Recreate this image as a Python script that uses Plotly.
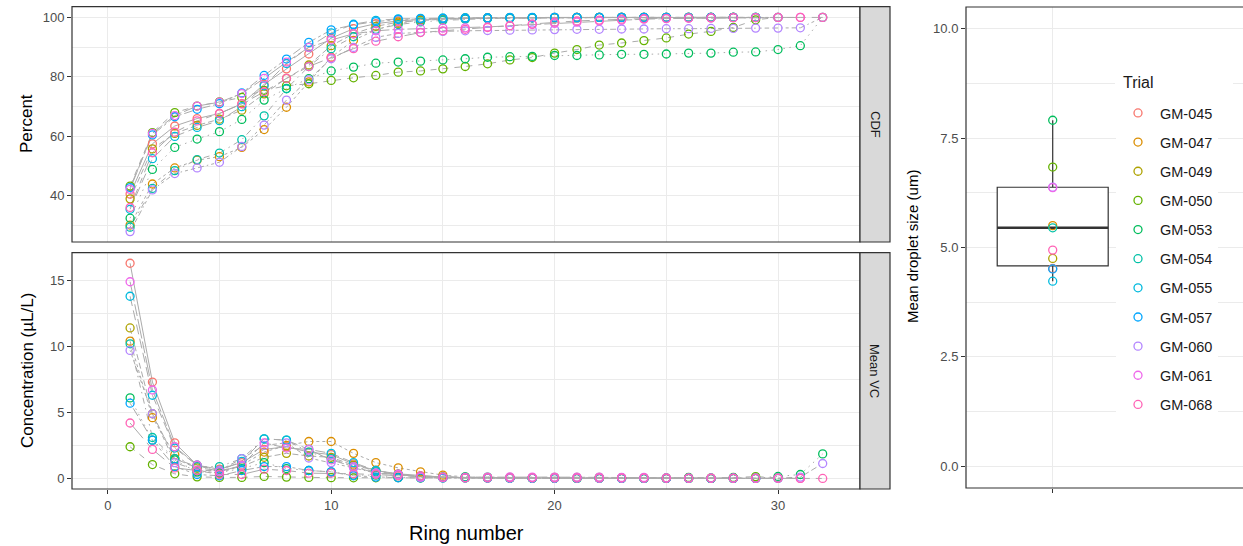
import plotly.graph_objects as go
import numpy as np

W, H = 1243, 546

TRIALS = ["GM-045", "GM-047", "GM-049", "GM-050", "GM-053", "GM-054",
          "GM-055", "GM-057", "GM-060", "GM-061", "GM-068"]
COLORS = ["#F8766D", "#DB8E00", "#AEA200", "#64B200", "#00BD5C", "#00C1A7",
          "#00BADE", "#00A6FF", "#B385FF", "#EF67EB", "#FF63B6"]
DASHES = ["solid", "3px,3px", "6px,3px", "6px,6px", "1.5px,4.5px",
          "1.5px,4.5px,6px,4.5px", "10px,4.5px", "3px,3px,9px,3px",
          "1.5px,3px,3px,3px,4.5px,3px,6px,3px", "20px,3px,12px,3px",
          "20px,6px,6px,6px,12px,6px,6px,6px"]

RINGS = list(range(1, 33))

# CDF (%) per ring
CDF_045 = [40.6, 57.5, 63.5, 66.0, 67.7, 71.0, 77.5, 82.7, 87.7, 93.0, 96.2, 97.9, 98.8, 99.3, 99.5, 99.7, 99.8, 99.9, 99.9, 99.9,
           100, 100, 100, 100, 100, 100, 100, 100]
CDF_047 = [30.2, 44.0, 49.4, 52.0, 53.2, 56.3, 62.3, 69.8, 78.3, 86.6, 92.3, 95.8, 98.0, 99.2, 99.6, 99.8, 99.9, 99.9, 99.9, 100,
           100, 100, 100, 100, 100, 100, 100, 100, 100]
CDF_049 = [39.0, 55.8, 61.0, 63.7, 65.8, 68.8, 74.3, 79.5, 84.0, 90.5, 94.5, 97.0, 98.4, 99.0, 99.4, 99.6, 99.7, 99.8, 99.9, 99.9,
           100, 100, 100, 100, 100, 100, 100, 100]
CDF_050 = [43.3, 61.3, 68.0, 70.2, 71.6, 73.1, 75.5, 77.0, 77.7, 78.8, 79.7, 80.5, 81.6, 82.0, 82.7, 83.5, 84.4, 85.7, 86.5, 88.0,
           89.2, 90.7, 91.4, 92.2, 93.1, 94.4, 95.3, 96.6, 99.2, 100]
CDF_053 = [32.5, 48.9, 56.3, 59.1, 61.6, 65.7, 72.2, 76.1, 79.4, 82.0, 83.3, 84.6, 85.0, 85.3, 85.7, 86.1, 86.6, 86.8, 86.9, 87.2,
           87.2, 87.4, 87.6, 87.6, 87.7, 88.0, 88.0, 88.3, 88.4, 89.2, 90.5, 100]
CDF_054 = [29.5, 42.5, 48.5, 52.2, 54.4, 58.9, 66.9, 76.0, 83.5, 89.5, 93.5, 96.0, 97.6, 98.5, 99.0, 99.4, 99.6, 99.7, 99.8, 99.9,
           99.9, 100, 100, 100, 100, 100, 100, 100, 100]
CDF_055 = [35.5, 52.5, 60.0, 63.0, 65.3, 70.0, 77.0, 84.5, 90.0, 94.8, 97.7, 99.0, 99.5, 99.7, 99.8, 99.9, 99.9, 100, 100, 100,
           100, 100, 100, 100, 100, 100, 100, 100, 100]
CDF_057 = [42.8, 60.5, 66.6, 69.1, 71.0, 74.6, 80.5, 86.0, 91.6, 95.8, 97.5, 98.6, 99.3, 99.5, 99.6, 99.7, 99.8, 99.9, 99.9, 100,
           100, 100, 100, 100, 100, 100, 100, 100, 100, 100]
CDF_060 = [28.0, 42.0, 47.5, 49.4, 51.3, 56.6, 63.8, 72.2, 79.0, 86.1, 89.9, 93.3, 94.6, 95.0, 95.3, 95.5, 95.6, 95.7, 95.8, 95.9,
           96.0, 96.0, 96.1, 96.1, 96.2, 96.2, 96.3, 96.3, 96.4, 96.4, 96.5, 100]
CDF_061 = [42.2, 61.0, 67.0, 70.2, 71.5, 74.4, 79.5, 85.0, 89.9, 92.4, 94.5, 95.5, 96.0, 96.2, 96.4, 96.5, 96.8, 97.2, 97.6, 98.0,
           98.4, 98.8, 99.1, 99.4, 99.6, 99.7, 99.8, 99.9, 99.9, 100, 100]
CDF_068 = [36.1, 54.5, 61.4, 65.2, 67.7, 70.9, 75.0, 79.5, 83.5, 86.5, 89.5, 92.0, 93.5, 94.9, 95.5, 96.0, 96.6, 97.2, 97.8, 98.4,
           98.8, 99.1, 99.4, 99.6, 99.7, 99.8, 99.85, 99.9, 99.95, 100, 100, 100]

# Mean volume concentration (uL/L) per ring
VC_045 = [16.3, 7.3, 2.7, 1.0, 0.7, 1.2, 2.2, 2.4, 2.0, 1.8, 1.1, 0.6, 0.35, 0.2, 0.1, 0.06, 0.04, 0.03, 0.02, 0.02,
          0.01, 0.01, 0.01, 0.0, 0.0, 0.0, 0.0, 0.0]
VC_047 = [10.4, 4.6, 1.8, 0.6, 0.4, 1.0, 2.0, 2.5, 2.8, 2.8, 1.9, 1.2, 0.8, 0.5, 0.25, 0.12, 0.06, 0.04, 0.03, 0.02,
          0.02, 0.01, 0.01, 0.01, 0.0, 0.0, 0.0, 0.0, 0.0]
VC_049 = [11.4, 4.9, 1.5, 0.8, 0.6, 0.9, 1.6, 1.9, 1.7, 1.6, 1.0, 0.6, 0.3, 0.15, 0.08, 0.05, 0.03, 0.02, 0.02, 0.01,
          0.01, 0.01, 0.0, 0.0, 0.0, 0.0, 0.0, 0.0]
VC_050 = [2.4, 1.05, 0.35, 0.12, 0.08, 0.08, 0.15, 0.1, 0.08, 0.06, 0.05, 0.05, 0.06, 0.03, 0.04, 0.04, 0.05, 0.07, 0.05, 0.08,
          0.07, 0.08, 0.04, 0.04, 0.05, 0.07, 0.05, 0.07, 0.14, 0.04]
VC_053 = [6.1, 2.9, 1.4, 0.5, 0.45, 0.75, 1.2, 0.75, 0.6, 0.5, 0.25, 0.25, 0.08, 0.06, 0.08, 0.08, 0.1, 0.04, 0.02, 0.06,
          0.0, 0.04, 0.04, 0.0, 0.02, 0.06, 0.0, 0.06, 0.02, 0.15, 0.3, 1.86]
VC_054 = [10.2, 3.1, 1.5, 0.9, 0.9, 1.5, 3.0, 2.9, 2.0, 1.5, 0.9, 0.5, 0.3, 0.15, 0.1, 0.12, 0.06, 0.04, 0.03, 0.02,
          0.02, 0.01, 0.01, 0.01, 0.0, 0.0, 0.0, 0.0, 0.0]
VC_055 = [13.8, 6.3, 2.3, 1.0, 0.6, 1.3, 3.0, 2.9, 2.2, 1.9, 1.2, 0.6, 0.3, 0.15, 0.1, 0.05, 0.03, 0.02, 0.02, 0.01,
          0.01, 0.01, 0.0, 0.0, 0.0, 0.0, 0.0, 0.0, 0.0]
VC_057 = [5.7, 2.9, 0.9, 0.3, 0.2, 0.6, 0.9, 0.9, 0.6, 0.5, 0.2, 0.1, 0.05, 0.04, 0.03, 0.04, 0.03, 0.02, 0.02, 0.01,
          0.01, 0.01, 0.0, 0.0, 0.0, 0.0, 0.0, 0.0, 0.0, 0.0]
VC_060 = [9.7, 4.9, 1.2, 0.6, 0.6, 1.5, 2.5, 2.7, 1.55, 1.2, 0.8, 0.4, 0.3, 0.1, 0.06, 0.05, 0.04, 0.03, 0.03, 0.03,
          0.03, 0.02, 0.02, 0.02, 0.02, 0.02, 0.02, 0.02, 0.02, 0.02, 0.1, 1.13]
VC_061 = [14.9, 6.7, 2.4, 1.0, 0.5, 1.0, 2.7, 2.3, 2.2, 1.4, 0.9, 0.4, 0.3, 0.1, 0.08, 0.06, 0.1, 0.12, 0.1, 0.1,
          0.1, 0.1, 0.08, 0.08, 0.05, 0.03, 0.03, 0.03, 0.02, 0.02, 0.0]
VC_068 = [4.2, 2.2, 0.8, 0.6, 0.3, 0.3, 0.7, 0.6, 0.4, 0.4, 0.35, 0.3, 0.2, 0.2, 0.1, 0.05, 0.05, 0.05, 0.05, 0.04,
          0.03, 0.03, 0.03, 0.02, 0.01, 0.01, 0.01, 0.01, 0.01, 0.01, 0.0, 0.0]

# Mean droplet size (um) per trial
MEAN_SIZE = [4.52, 5.50, 4.75, 6.84, 7.91, 5.45, 4.23, 4.51, 6.38, 6.37, 4.94]

CDFS = [CDF_045, CDF_047, CDF_049, CDF_050, CDF_053, CDF_054, CDF_055, CDF_057, CDF_060, CDF_061, CDF_068]
VCS = [VC_045, VC_047, VC_049, VC_050, VC_053, VC_054, VC_055, VC_057, VC_060, VC_061, VC_068]

FONT = "Liberation Sans, Arial, sans-serif"
LINE_GREY = "#ABABAB"
GRID = "#EBEBEB"
BORDER = "#333333"

fig = go.Figure()

# lines first
for name, dash, cdf, vc in zip(TRIALS, DASHES, CDFS, VCS):
    fig.add_trace(go.Scatter(x=RINGS[:len(cdf)], y=cdf, mode="lines", xaxis="x", yaxis="y",
                             line=dict(color=LINE_GREY, width=1, dash=dash),
                             showlegend=False, hoverinfo="skip"))
    fig.add_trace(go.Scatter(x=RINGS[:len(vc)], y=vc, mode="lines", xaxis="x2", yaxis="y2",
                             line=dict(color=LINE_GREY, width=1, dash=dash),
                             showlegend=False, hoverinfo="skip"))

MK = dict(symbol="circle-open", size=8, line=dict(width=1.3))
for name, col, cdf, vc in zip(TRIALS, COLORS, CDFS, VCS):
    fig.add_trace(go.Scatter(x=RINGS[:len(cdf)], y=cdf, mode="markers", xaxis="x", yaxis="y",
                             marker=dict(color=col, **MK), showlegend=False, name=name))
    fig.add_trace(go.Scatter(x=RINGS[:len(vc)], y=vc, mode="markers", xaxis="x2", yaxis="y2",
                             marker=dict(color=col, **MK), showlegend=False, name=name))

# box plot
fig.add_trace(go.Box(y=MEAN_SIZE, x=[0] * len(MEAN_SIZE), xaxis="x3", yaxis="y3",
                     boxpoints=False, fillcolor="white", width=0.75, whiskerwidth=0,
                     line=dict(color=BORDER, width=1.2), showlegend=False, hoverinfo="skip"))
med = float(np.median(MEAN_SIZE))
fig.add_trace(go.Scatter(x=[-0.375, 0.375], y=[med, med], mode="lines", xaxis="x3", yaxis="y3",
                         line=dict(color=BORDER, width=2.4), showlegend=False, hoverinfo="skip"))
for i, (name, col, s) in enumerate(zip(TRIALS, COLORS, MEAN_SIZE)):
    fig.add_trace(go.Scatter(x=[0], y=[s], mode="markers", xaxis="x3", yaxis="y3",
                             marker=dict(color=col, **MK), name=name, legendgroup=name,
                             showlegend=True))

LX0, LX1 = 72 / W, 860 / W
tickfont = dict(family=FONT, size=13, color="#4D4D4D")
common = dict(showline=False, zeroline=False, gridcolor=GRID, gridwidth=1.1,
              tickfont=tickfont, tickcolor=BORDER, ticklen=4, tickwidth=1)

fig.update_layout(
    width=W, height=H, margin=dict(l=0, r=0, t=0, b=0),
    paper_bgcolor="white", plot_bgcolor="white",
    font=dict(family=FONT),
    xaxis=dict(domain=[LX0, LX1], anchor="y", range=[-1.6, 33.67], dtick=10, tick0=0,
               showticklabels=False, ticks="",
               minor=dict(dtick=5, tick0=0, showgrid=True, gridcolor=GRID, gridwidth=0.6), **common),
    yaxis=dict(domain=[1 - 242 / H, 1 - 6.7 / H], anchor="x", range=[24.5, 103.6], dtick=20, tick0=0,
               ticks="outside",
               minor=dict(dtick=10, tick0=0, showgrid=True, gridcolor=GRID, gridwidth=0.6), **common),
    xaxis2=dict(domain=[LX0, LX1], anchor="y2", range=[-1.6, 33.67], dtick=10, tick0=0,
                ticks="outside",
                minor=dict(dtick=5, tick0=0, showgrid=True, gridcolor=GRID, gridwidth=0.6), **common),
    yaxis2=dict(domain=[1 - 489 / H, 1 - 252.7 / H], anchor="x2", range=[-0.8, 17.1], dtick=5, tick0=0,
                ticks="outside",
                minor=dict(dtick=2.5, tick0=0, showgrid=True, gridcolor=GRID, gridwidth=0.6), **common),
    xaxis3=dict(domain=[966 / W, 1.0], anchor="y3", range=[-0.586, 1.286],
                tickmode="array", tickvals=[0], ticktext=[""], ticks="outside", **common),
    yaxis3=dict(domain=[1 - 488 / H, 1 - 7 / H], anchor="x3", range=[-0.5, 10.5], dtick=2.5, tick0=0,
                tickformat=".1f", ticks="outside",
                minor=dict(dtick=1.25, tick0=0, showgrid=True, gridcolor=GRID, gridwidth=0.6), **common),
    legend=dict(x=1116 / W, xanchor="left", y=1 - 97 / H, yanchor="top",
                bgcolor="white", borderwidth=0, tracegroupgap=7.3, itemwidth=34,
                font=dict(family=FONT, size=14.5, color="#1A1A1A")),
)

shapes = []
# white backdrop behind legend title area
shapes.append(dict(type="rect", xref="paper", yref="paper", x0=1115 / W, x1=1233 / W,
                   y0=1 - 100 / H, y1=1 - 62 / H, line=dict(width=0), fillcolor="white", layer="above"))
# panel borders
for (x0, x1, y0, y1) in [(72, 860, 6.7, 242), (72, 860, 252.7, 489), (966, 1260, 7, 488)]:
    shapes.append(dict(type="rect", xref="paper", yref="paper", x0=x0 / W, x1=x1 / W,
                       y0=1 - y1 / H, y1=1 - y0 / H, line=dict(color=BORDER, width=1.2),
                       fillcolor="rgba(0,0,0,0)", layer="above"))
# strips
for (y0, y1) in [(6.7, 242), (252.7, 489)]:
    shapes.append(dict(type="rect", xref="paper", yref="paper", x0=860 / W, x1=890 / W,
                       y0=1 - y1 / H, y1=1 - y0 / H, line=dict(color=BORDER, width=1.2),
                       fillcolor="#D9D9D9", layer="above"))
fig.update_layout(shapes=shapes)


def A(text, x, y, size, angle=0, color="black", xanchor="center"):
    return dict(text=text, x=x / W, y=1 - y / H, xref="paper", yref="paper", showarrow=False,
                textangle=angle, xanchor=xanchor, yanchor="middle",
                font=dict(family=FONT, size=size, color=color))


ann = [
    A("CDF", 875, 124, 13, 90, "#1A1A1A"),
    A("Mean VC", 875, 371, 13, 90, "#1A1A1A"),
    A("Percent", 27, 124, 17, -90),
    A("Concentration (µL/L)", 27, 371, 17, -90),
    A("Ring number", 466, 533, 20),
    A("Mean droplet size (um)", 913, 247, 15, -90),
    A("Trial", 1121, 82, 16, 0, "#1A1A1A", "left"),
]
fig.update_layout(annotations=ann)

fig.write_html("out.html")
